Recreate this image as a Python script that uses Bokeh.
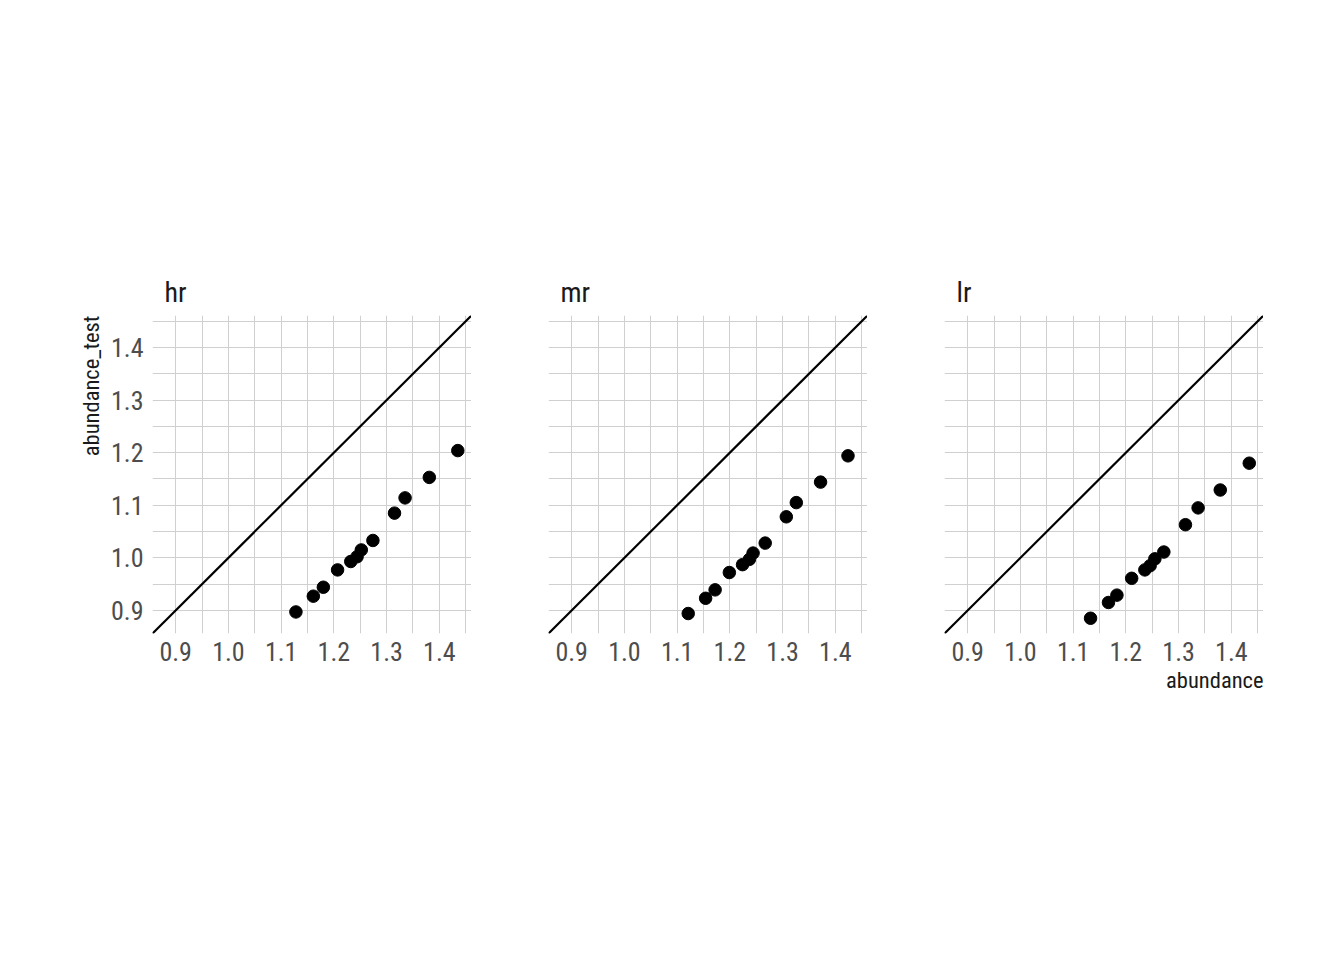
from bokeh.plotting import figure
from bokeh.layouts import row
from bokeh.models import FixedTicker, Slope, Title, Range1d
from bokeh.embed import file_html
from bokeh.resources import INLINE

# ---- data ----
panels = ["hr", "mr", "lr"]
hr_abundance = [1.128, 1.161, 1.180, 1.207, 1.232, 1.244, 1.252, 1.274, 1.315, 1.335, 1.381, 1.435]
hr_test = [0.897, 0.927, 0.944, 0.977, 0.993, 1.002, 1.015, 1.033, 1.085, 1.114, 1.153, 1.204]
mr_abundance = [1.121, 1.154, 1.172, 1.199, 1.224, 1.237, 1.244, 1.267, 1.307, 1.326, 1.372, 1.424]
mr_test = [0.894, 0.923, 0.939, 0.972, 0.987, 0.997, 1.009, 1.028, 1.078, 1.105, 1.144, 1.194]
lr_abundance = [1.133, 1.167, 1.183, 1.211, 1.236, 1.246, 1.255, 1.272, 1.313, 1.337, 1.379, 1.434]
lr_test = [0.885, 0.915, 0.929, 0.961, 0.977, 0.985, 0.998, 1.011, 1.063, 1.095, 1.129, 1.180]
major_ticks = [0.9, 1.0, 1.1, 1.2, 1.3, 1.4]
minor_ticks = [0.95, 1.05, 1.15, 1.25, 1.35, 1.45]
tick_labels = {0.9: "0.9", 1.0: "1.0", 1.1: "1.1", 1.2: "1.2", 1.3: "1.3", 1.4: "1.4"}
x_title = "abundance"
y_title = "abundance_test"

xs = [hr_abundance, mr_abundance, lr_abundance]
ys = [hr_test, mr_test, lr_test]

lo, hi = 0.856, 1.461
FONT = "'Liberation Sans Narrow', 'Arial Narrow', 'Roboto Condensed', 'Liberation Sans', Arial, sans-serif"
GRID = "#d0d0d0"

figs = []
for i, name in enumerate(panels):
    p = figure(
        output_backend="svg", toolbar_location=None,
        frame_width=319, frame_height=318,
        min_border_left=152 if i == 0 else 77,
        min_border_right=0, min_border_top=315, min_border_bottom=300,
        x_range=Range1d(lo, hi), y_range=Range1d(lo, hi),
        background_fill_color=None, border_fill_color=None,
        outline_line_color=None,
    )
    ticker = FixedTicker(ticks=major_ticks, minor_ticks=minor_ticks)
    for ax in (p.xaxis[0], p.yaxis[0]):
        ax.ticker = ticker
        ax.major_label_overrides = tick_labels
        ax.axis_line_color = None
        ax.major_tick_line_color = None
        ax.minor_tick_line_color = None
        ax.major_tick_out = 0
        ax.major_tick_in = 0
        ax.minor_tick_out = 0
        ax.minor_tick_in = 0
        ax.major_label_text_font = FONT
        ax.major_label_text_font_size = "26px"
        ax.major_label_text_color = "#4d4d4d"
    p.xaxis[0].major_label_standoff = 8
    p.yaxis[0].major_label_standoff = 9
    if i != 0:
        p.yaxis.visible = False
    for g in (p.xgrid[0], p.ygrid[0]):
        g.ticker = ticker
        g.grid_line_color = GRID
        g.grid_line_width = 1
        g.minor_grid_line_color = GRID
        g.minor_grid_line_width = 1

    p.add_layout(Slope(gradient=1, y_intercept=0, line_color="black", line_width=2.2))
    p.scatter(xs[i], ys[i], size=12.5, color="black")

    p.title.text = name
    p.title.align = "left"
    p.title.offset = 12
    p.title.text_font = FONT
    p.title.text_font_size = "28px"
    p.title.text_font_style = "normal"
    p.title.text_color = "#1a1a1a"
    p.title.standoff = 14

    if i == 0:
        p.add_layout(Title(text=y_title, align="right", text_font=FONT, text_font_size="22.5px",
                           text_font_style="normal", text_color="#1a1a1a", standoff=8), "left")
    if i == 2:
        p.add_layout(Title(text=x_title, align="right", text_font=FONT, text_font_size="22.5px",
                           text_font_style="normal", text_color="#1a1a1a", standoff=2), "below")
    figs.append(p)

layout = row(*figs, spacing=0)
open("out.html", "w").write(file_html(layout, INLINE))
